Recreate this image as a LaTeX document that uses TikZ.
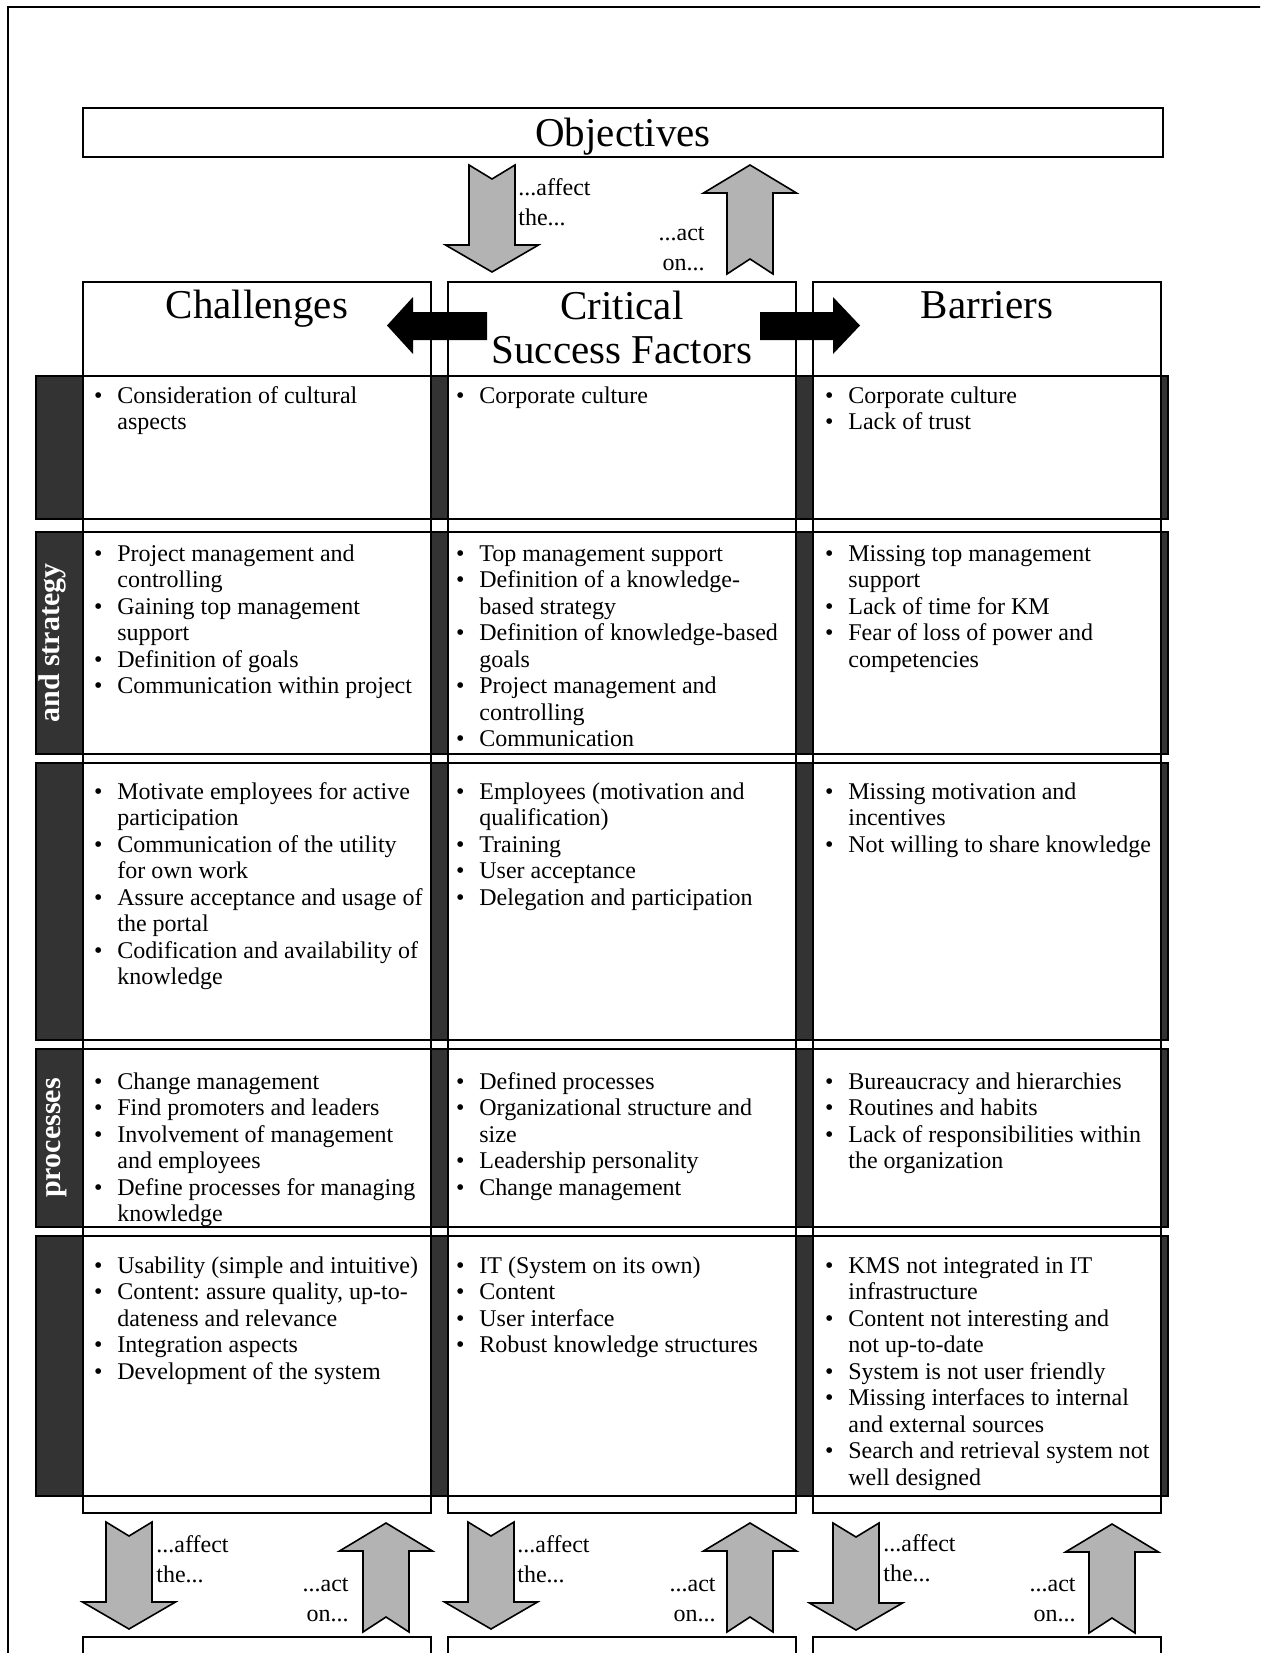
\documentclass[tikz,border=0pt]{standalone}
\usepackage{fontspec}
\setmainfont{Liberation Serif}
\frenchspacing
\definecolor{ink}{HTML}{000000}
\definecolor{bandDark}{HTML}{333333}
\definecolor{arrGrey}{HTML}{B3B3B3}
\newcommand{\bitem}{\makebox[9.5pt][l]{\makebox[0pt]{\textbullet}}}
\newcommand{\bcont}{\hspace*{9.5pt}}
\newcommand{\cellrows}[1]{\begin{tabular}[t]{@{}l@{}}#1\end{tabular}}
\tikzset{
  frameline/.style={draw=ink,line width=1pt},
  colbox/.style={draw=ink,line width=1pt,fill=white},
  rowband/.style={draw=ink,line width=1.2pt,fill=bandDark},
  cellbox/.style={draw=ink,line width=0.8pt,fill=white},
  headtxt/.style={font={\fontsize{20.5}{22}\selectfont},text=ink,anchor=base,inner sep=0pt},
  celltxt/.style={font={\fontsize{12}{13.25}\selectfont},text=ink,anchor=base west,inner sep=0pt},
  arrlab/.style={font={\fontsize{12}{15}\selectfont},text=ink,inner sep=0pt},
  bandtxt/.style={font={\fontsize{15}{17}\selectfont\bfseries},text=white,rotate=90,anchor=base,inner sep=0pt},
  sidearr/.style={fill=ink},
  blockarr/.style={draw=ink,line width=0.8pt,fill=arrGrey,line join=miter},
  downarr/.pic={\path[blockarr] (-23,0)--(0,14)--(23,0)--(23,80)--(46.5,80)--(0,107)--(-46.5,80)--(-23,80)--cycle;},
  uparr/.pic={\path[blockarr] (0,0)--(46.5,28)--(23,28)--(23,109)--(0,94)--(-23,109)--(-23,28)--(-46.5,28)--cycle;}}
\begin{document}
\begin{tikzpicture}[x=0.5pt,y=-0.5pt]
\useasboundingbox (0,0) rectangle (1260,1653);
\clip (0,0) rectangle (1260,1653);
\draw[frameline] (8,1670)--(8,7)--(1275,7);
% objectives
\draw[colbox] (83,108) rectangle (1163,157);
\node[headtxt] (objT) at (623,147) {Objectives};
\pic at (492,165) {downarr};
\pic at (750,165) {uparr};
\node[arrlab,anchor=base west] (affT) at (518,196) {\begin{tabular}[t]{@{}l@{}}...affect\\the...\end{tabular}};
\node[arrlab,anchor=base east] (actT) at (705,241) {\begin{tabular}[t]{@{}r@{}}...act\\on...\end{tabular}};
% columns
\draw[colbox] (83,282) rectangle (431,1513);
\draw[colbox] (448,282) rectangle (796,1513);
\draw[colbox] (813,282) rectangle (1161,1513);
\node[headtxt] (chalT) at (257,318) {Challenges};
\node[headtxt] (csfT) at (622,319) {\begin{tabular}[t]{@{}c@{}}Critical\\Success Factors\end{tabular}};
\node[headtxt] (barT) at (987,318) {Barriers};
\path[sidearr] (487,312)--(413,312)--(413,297)--(387,325.5)--(413,354)--(413,340)--(487,340)--cycle;
\path[sidearr] (760,312)--(833,312)--(833,297)--(860,325.5)--(833,354)--(833,340)--(760,340)--cycle;
% rows
\draw[rowband] (36,376) rectangle (1168,519);
\draw[cellbox] (83,376) rectangle (431,519); \draw[cellbox] (448,376) rectangle (796,519); \draw[cellbox] (813,376) rectangle (1161,519);
\draw[rowband] (36,532) rectangle (1168,754);
\draw[cellbox] (83,532) rectangle (431,754); \draw[cellbox] (448,532) rectangle (796,754); \draw[cellbox] (813,532) rectangle (1161,754);
\draw[rowband] (36,763) rectangle (1168,1040);
\draw[cellbox] (83,763) rectangle (431,1040); \draw[cellbox] (448,763) rectangle (796,1040); \draw[cellbox] (813,763) rectangle (1161,1040);
\draw[rowband] (36,1049) rectangle (1168,1227);
\draw[cellbox] (83,1049) rectangle (431,1227); \draw[cellbox] (448,1049) rectangle (796,1227); \draw[cellbox] (813,1049) rectangle (1161,1227);
\draw[rowband] (36,1236) rectangle (1168,1496);
\draw[cellbox] (83,1236) rectangle (431,1496); \draw[cellbox] (448,1236) rectangle (796,1496); \draw[cellbox] (813,1236) rectangle (1161,1496);
\node[bandtxt] (lab2) at (59,643) {and strategy};
\node[bandtxt] (lab4) at (60,1138) {processes};
% row 1
\node[celltxt] (c11) at (98,403) {\cellrows{\bitem Consideration of cultural\\\bcont aspects}};
\node[celltxt] (c12) at (460,403) {\cellrows{\bitem Corporate culture}};
\node[celltxt] (c13) at (829,403) {\cellrows{\bitem Corporate culture\\\bitem Lack of trust}};
% row 2
\node[celltxt] (c21) at (98,561) {\cellrows{\bitem Project management and\\\bcont controlling\\\bitem Gaining top management\\\bcont support\\\bitem Definition of goals\\\bitem Communication within project}};
\node[celltxt] (c22) at (460,561) {\cellrows{\bitem Top management support\\\bitem Definition of a knowledge-\\\bcont based strategy\\\bitem Definition of knowledge-based\\\bcont goals\\\bitem Project management and\\\bcont controlling\\\bitem Communication}};
\node[celltxt] (c23) at (829,561) {\cellrows{\bitem Missing top management\\\bcont support\\\bitem Lack of time for KM\\\bitem Fear of loss of power and\\\bcont competencies}};
% row 3
\node[celltxt] (c31) at (98,799) {\cellrows{\bitem Motivate employees for active\\\bcont participation\\\bitem Communication of the utility\\\bcont for own work\\\bitem Assure acceptance and usage of\\\bcont the portal\\\bitem Codification and availability of\\\bcont knowledge}};
\node[celltxt] (c32) at (460,799) {\cellrows{\bitem Employees (motivation and\\\bcont qualification)\\\bitem Training\\\bitem User acceptance\\\bitem Delegation and participation}};
\node[celltxt] (c33) at (829,799) {\cellrows{\bitem Missing motivation and\\\bcont incentives\\\bitem Not willing to share knowledge}};
% row 4
\node[celltxt] (c41) at (98,1089) {\cellrows{\bitem Change management\\\bitem Find promoters and leaders\\\bitem Involvement of management\\\bcont and employees\\\bitem Define processes for managing\\\bcont knowledge}};
\node[celltxt] (c42) at (460,1089) {\cellrows{\bitem Defined processes\\\bitem Organizational structure and\\\bcont size\\\bitem Leadership personality\\\bitem Change management}};
\node[celltxt] (c43) at (829,1089) {\cellrows{\bitem Bureaucracy and hierarchies\\\bitem Routines and habits\\\bitem Lack of responsibilities within\\\bcont the organization}};
% row 5
\node[celltxt] (c51) at (98,1273) {\cellrows{\bitem Usability (simple and intuitive)\\\bitem Content: assure quality, up-to-\\\bcont dateness and relevance\\\bitem Integration aspects\\\bitem Development of the system}};
\node[celltxt] (c52) at (460,1273) {\cellrows{\bitem IT (System on its own)\\\bitem Content\\\bitem User interface\\\bitem Robust knowledge structures}};
\node[celltxt] (c53) at (829,1273) {\cellrows{\bitem KMS not integrated in IT\\\bcont infrastructure\\\bitem Content not interesting and\\\bcont not up-to-date\\\bitem System is not user friendly\\\bitem Missing interfaces to internal\\\bcont and external sources\\\bitem Search and retrieval system not\\\bcont well designed}};
% bottom arrows
\pic at (129,1522) {downarr}; \pic at (386,1523) {uparr};
\pic at (491,1522) {downarr}; \pic at (750,1523) {uparr};
\pic at (856,1523) {downarr}; \pic at (1112,1524) {uparr};
\node[arrlab,anchor=base west] (aff1) at (156,1552) {\begin{tabular}[t]{@{}l@{}}...affect\\the...\end{tabular}};
\node[arrlab,anchor=base east] (act1) at (349,1591) {\begin{tabular}[t]{@{}r@{}}...act\\on...\end{tabular}};
\node[arrlab,anchor=base west] (aff2) at (517,1552) {\begin{tabular}[t]{@{}l@{}}...affect\\the...\end{tabular}};
\node[arrlab,anchor=base east] (act2) at (716,1591) {\begin{tabular}[t]{@{}r@{}}...act\\on...\end{tabular}};
\node[arrlab,anchor=base west] (aff3) at (883,1551) {\begin{tabular}[t]{@{}l@{}}...affect\\the...\end{tabular}};
\node[arrlab,anchor=base east] (act3) at (1076,1591) {\begin{tabular}[t]{@{}r@{}}...act\\on...\end{tabular}};
\draw[frameline] (83,1670)--(83,1637)--(431,1637)--(431,1670);
\draw[frameline] (448,1670)--(448,1637)--(796,1637)--(796,1670);
\draw[frameline] (813,1670)--(813,1637)--(1161,1637)--(1161,1670);
\end{tikzpicture}
\end{document}
